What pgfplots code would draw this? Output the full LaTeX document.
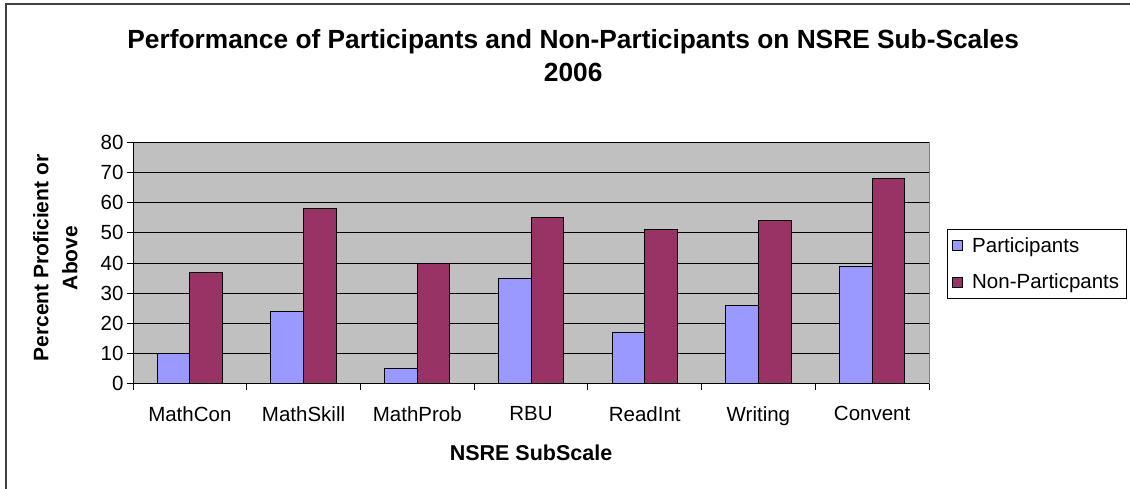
\documentclass[border=0pt]{standalone}
\usepackage{pgfplots}
\pgfplotsset{compat=1.18}
\usepackage{fontspec}
\setmainfont{Liberation Sans}
\definecolor{partc}{HTML}{9999FF}
\definecolor{nonpc}{HTML}{993366}
\definecolor{plotbg}{HTML}{C0C0C0}
\begin{document}
\begin{tikzpicture}[x=1bp,y=1bp]
\useasboundingbox (0,0) rectangle (1130,489);
\fill[white] (0,0) rectangle (1130,489);
\draw[black!75, line width=1.2bp] (6,-5) -- (6,485) -- (1140,485);
\begin{axis}[
  at={(133bp,105.3bp)}, anchor=south west,
  scale only axis, width=796bp, height=241.3bp,
  ybar=0pt, bar width=32.7bp,
  xmin=-0.5, xmax=6.5, ymin=0, ymax=80,
  xtick={0,...,6},
  xticklabels={MathCon,MathSkill,MathProb,RBU,ReadInt,Writing,Convent},
  minor xtick={-0.5,0.5,...,6.5},
  ytick={0,10,...,80},
  tick pos=left, tick align=outside,
  major tick length=6bp, minor tick length=6bp,
  major x tick style={draw=none},
  minor x tick style={black, line width=0.8bp},
  major y tick style={black, line width=0.8bp},
  ymajorgrids, major grid style={black, line width=0.8bp},
  axis x line*=bottom, axis y line*=left,
  axis line style={black, line width=1bp, -},
  axis background/.style={fill=plotbg, draw=gray, line width=1bp},
  /pgf/number format/assume math mode=true,
  ticklabel style={font=\fontsize{20.5bp}{24bp}\selectfont},
  xticklabel style={yshift=-13bp},
  title={Performance of Participants and Non-Participants on NSRE Sub-Scales\\2006},
  title style={align=center, font=\fontsize{26.3bp}{33bp}\selectfont\bfseries,
    at={(axis description cs:0.553,1.335)}, anchor=center},
  ylabel={Percent Proficient or\\Above},
  ylabel style={align=center, font=\fontsize{21bp}{29bp}\selectfont\bfseries,
    at={(axis description cs:-0.0974,0.521)}, anchor=center, rotate=0},
  xlabel={NSRE SubScale},
  xlabel style={font=\fontsize{21.5bp}{24bp}\selectfont\bfseries,
    at={(axis description cs:0.5,-0.287)}, anchor=center},
  legend style={at={(axis description cs:1.0226,0.641)}, anchor=north west,
    draw=black, line width=0.8bp, font=\fontsize{20.5bp}{24bp}\selectfont,
    inner xsep=5bp, inner ysep=6bp, row sep=16bp,
    /tikz/every odd column/.append style={column sep=7bp}},
  legend cell align=left,
  legend image code/.code={\draw[#1, line width=0.8bp] (0bp,-5bp) rectangle (10bp,5bp);},
]
\addplot[fill=partc, draw=black, line width=1bp] coordinates {(0,10) (1,24) (2,5) (3,35) (4,17) (5,26) (6,39)};
\addplot[fill=nonpc, draw=black, line width=1bp] coordinates {(0,37) (1,58) (2,40) (3,55) (4,51) (5,54) (6,68)};
\legend{Participants, Non-Particpants}
\end{axis}
\end{tikzpicture}
\end{document}
